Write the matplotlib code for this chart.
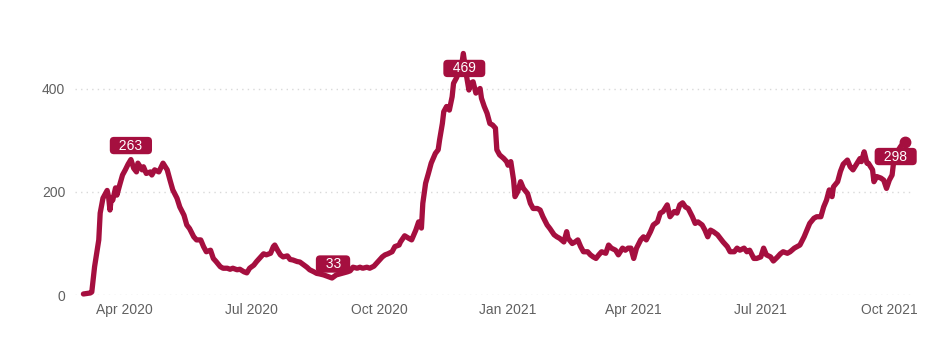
import pandas as pd
import matplotlib.pyplot as plt
import matplotlib.dates as mdates

# daily values, x as days since 1 Mar 2020
start = pd.Timestamp("2020-03-01")
days = [2, 7, 8, 10, 13, 14, 16, 19, 20, 21, 22, 23, 25, 26, 28, 30, 32, 34, 36, 38,
        40, 41, 44, 45, 47, 50, 51, 53, 56, 59, 62, 64, 66, 69, 71, 74, 76, 78, 81,
        83, 86, 88, 90, 93, 95, 97, 100, 102, 105, 107, 109, 112, 114, 117, 119, 121,
        124, 126, 128, 131, 133, 136, 138, 139, 141, 143, 145, 148, 150, 152, 155, 157,
        160, 162, 164,
        167, 169, 171, 174, 176, 180, 183, 187, 191, 193, 195, 198, 200, 202, 205, 207,
        210, 212, 214, 216, 218, 220, 223, 225, 228, 229, 232, 235, 237, 240, 242, 244,
        245, 247, 249, 251, 254, 256, 257, 259, 260, 262, 264, 266, 267, 269, 271, 272,
        274, 276, 278, 279, 281, 283, 286, 287, 289, 291, 293, 295, 297, 298, 300, 303,
        305, 306, 308, 310, 311, 313, 315, 317, 320, 322, 324, 327, 329, 331, 334, 336,
        339, 341, 343, 346, 348, 349, 352, 354, 356, 358, 360, 363, 365, 367, 369, 371,
        373, 376, 378, 380, 383, 385, 388, 390, 392,
        394, 396, 398, 401, 403, 405, 408, 410, 413, 415, 417, 420, 422, 425, 427, 429,
        431, 433, 435, 438, 440, 442, 445, 447, 449, 451, 453, 456, 458, 460, 463, 465,
        468, 470, 472, 475, 477, 479, 482, 484, 487, 489, 491, 494, 496, 499, 501, 503,
        506, 508, 511, 513, 515, 518, 520, 522, 525, 527, 530, 532, 534, 536, 538, 539,
        542, 544, 546, 549, 551, 553, 556, 558, 559, 561, 563, 564, 567, 568, 570, 573,
        575, 577, 579, 581, 582, 584, 587, 590]
cases = [2, 4, 6, 55, 107, 159, 188, 203, 191, 165, 188, 184, 208, 194, 214, 233, 243, 254, 263, 246,
         239, 256, 243, 249, 236, 239, 233, 243, 239, 256, 243, 223, 204, 188, 171, 155, 136, 129, 113,
         107, 107, 94, 84, 87, 71, 65, 55, 52, 52, 50, 52, 49, 50, 45, 43, 52,
         58, 65, 71, 80, 78, 81, 94, 97, 87, 78, 74, 76, 69, 68, 65, 64,
         58, 54, 49,
         45, 42, 41, 39, 37, 33, 39, 42, 45, 47, 54, 52, 54, 52, 54, 52,
         56, 62, 68, 74, 78, 80, 84, 94, 97, 103, 115, 110, 107, 126, 142, 130,
         178, 217, 236, 256, 275, 282, 301, 333, 356, 366, 359, 385, 411, 421, 434, 430,
         469, 430, 398, 411, 414, 392, 401, 382, 366, 353, 333, 330, 324, 282, 272, 265,
         259, 252, 259, 223, 191, 201, 220, 207, 197, 178, 168, 168, 165, 152, 136, 129,
         117, 113, 110, 103, 123, 110, 100, 103, 107, 94, 84, 84, 78, 74, 71, 78,
         84, 81, 97, 91, 87, 78, 91, 87, 91,
         91, 71, 91, 107, 113, 107, 123, 136, 142, 159, 162, 175, 152, 162, 159, 175,
         179, 171, 168, 152, 139, 142, 136, 126, 113, 126, 123, 117, 110, 103, 94, 84,
         84, 91, 87, 91, 84, 87, 71, 71, 74, 91, 78, 74, 66, 74, 80, 84,
         81, 84, 91, 94, 97, 113, 126, 139, 149, 152, 152, 171, 184, 204, 191, 210,
         220, 240, 254, 262, 249, 243, 256, 265, 259, 278, 256, 256, 243, 220, 230, 227,
         223, 207, 223, 233, 256, 275, 288, 298]

yticks = [0, 200, 400]
xticks = ["2020-04-01", "2020-07-01", "2020-10-01", "2021-01-01",
          "2021-04-01", "2021-07-01", "2021-10-01"]
labelled = [36, 180, 274, 590]   # days that get a value tag

dates = start + pd.to_timedelta(days, unit="D")

plt.rcParams['font.family'] = ['Liberation Sans', 'DejaVu Sans']
red = '#a50f3f'

fig = plt.figure(figsize=(9.51, 3.49), dpi=100)
ax = fig.add_axes([0.0789, 0.1547, 0.8812, 0.7379])

ax.plot(dates, cases, color=red, lw=3.8, solid_joinstyle='round',
        solid_capstyle='round', clip_on=False, zorder=3)
ax.plot(dates[-1], cases[-1], 'o', color=red, ms=7.5, zorder=4, clip_on=False)

# tag offsets in pixels (dx, dy)
offsets = {36: (0, 14), 180: (1, 14), 274: (1, -15), 590: (-9, -15)}
for d in labelled:
    i = days.index(d)
    ax.annotate(f"  {cases[i]}  ", (dates[i], cases[i]), xytext=offsets[d],
                textcoords='offset pixels', ha='center', va='center',
                color='white', fontsize=10, zorder=5,
                bbox=dict(boxstyle='round,pad=0.12,rounding_size=0.3',
                          fc=red, ec='none'))

ax.set_ylim(0, 500)
ax.set_xlim(start - pd.Timedelta(days=4), start + pd.Timedelta(days=596))
ax.set_yticks(yticks)
ax.set_xticks(pd.to_datetime(xticks))
ax.xaxis.set_major_formatter(mdates.DateFormatter('%b %Y'))
ax.grid(axis='y', color='#d9d9d9', linestyle=(0, (1, 3)), lw=1)
ax.tick_params(length=0, colors='#606060', labelsize=10)
ax.tick_params(axis='y', pad=7)
ax.tick_params(axis='x', pad=6)
for s in ax.spines.values():
    s.set_visible(False)

fig.savefig('out.png', dpi=100)
